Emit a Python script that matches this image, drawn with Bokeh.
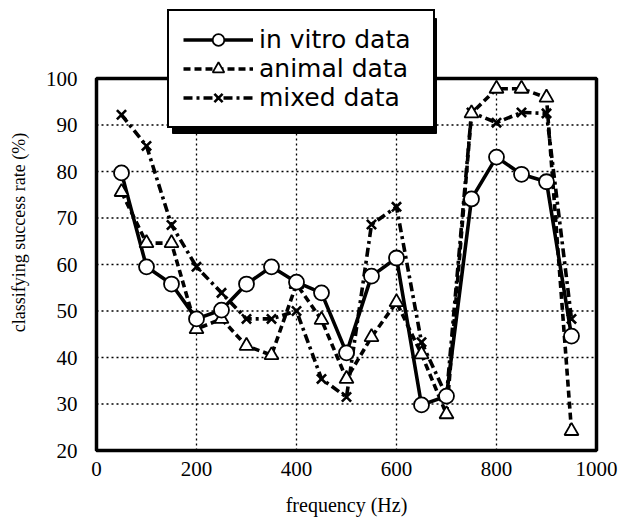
from bokeh.plotting import figure
from bokeh.models import Legend, LegendItem, FixedTicker, BoxAnnotation
from bokeh.embed import file_html
from bokeh.resources import INLINE

# ---- data ----
freq = [50, 100, 150, 200, 250, 300, 350, 400, 450, 500,
        550, 600, 650, 700, 750, 800, 850, 900, 950]
in_vitro = [79.7, 59.5, 55.8, 48.3, 50.2, 55.8, 59.5, 56.2, 53.9, 41.0,
            57.5, 61.4, 29.8, 31.7, 74.1, 83.1, 79.4, 77.8, 44.6]
animal = [75.6, 64.6, 64.6, 46.1, 48.3, 42.5, 40.5, 55.8, 48.1, 35.4,
          44.4, 51.9, 40.7, 27.8, 92.5, 97.8, 97.8, 95.9, 24.2]
mixed = [92.2, 85.5, 68.5, 59.5, 53.9, 48.3, 48.3, 50.0, 35.4, 31.5,
         68.6, 72.4, 43.3, 31.7, 92.7, 90.5, 92.7, 92.5, 48.3]
series_labels = ["in vitro data", "animal data", "mixed data"]
x_ticks = [0, 200, 400, 600, 800, 1000]
y_ticks = [20, 30, 40, 50, 60, 70, 80, 90, 100]
x_lim = (0, 1000)
y_lim = (20, 100)

SERIF = "Liberation Serif"
SANS = "DejaVu Sans"

W, H = 622, 529
BL, BR, BT, BB = 90, 20, 8, 73           # borders around the frame
XR = (-12, 1012)                          # frame a bit larger than the box
YR = (18.71, 100 + 70 / 4.65)             # room above for the legend
FW, FH = W - BL - BR, H - BT - BB


def sx(px):   # canvas px -> data x
    return XR[0] + (px - BL) * (XR[1] - XR[0]) / FW


def sy(py):   # canvas px -> data y
    return YR[0] + (BT + FH - py) * (YR[1] - YR[0]) / FH


p = figure(width=W, height=H, x_range=XR, y_range=YR,
           output_backend="svg", toolbar_location=None,
           min_border_left=BL, min_border_right=BR,
           min_border_top=BT, min_border_bottom=BB)

p.background_fill_color = "white"
p.border_fill_color = "white"
p.outline_line_color = None
p.xgrid.visible = False
p.ygrid.visible = False

for ax in (p.xaxis[0], p.yaxis[0]):
    ax.axis_line_color = None
    ax.major_tick_line_color = None
    ax.minor_tick_line_color = None
    ax.major_tick_out = 0
    ax.major_tick_in = 0
    ax.major_label_text_font = SERIF
    ax.major_label_text_font_size = "21px"
    ax.major_label_text_color = "black"
    ax.axis_label_text_font = SERIF
    ax.axis_label_text_font_style = "normal"
    ax.axis_label_text_color = "black"

p.xaxis.ticker = FixedTicker(ticks=x_ticks)
p.yaxis.ticker = FixedTicker(ticks=y_ticks)
p.xaxis.axis_label = "frequency (Hz)"
p.yaxis.axis_label = "classifying success rate (%)"
p.xaxis.axis_label_text_font_size = "20px"
p.yaxis.axis_label_text_font_size = "18px"
p.xaxis.major_label_standoff = 5
p.yaxis.major_label_standoff = 13
p.xaxis.axis_label_standoff = 15
p.yaxis.axis_label_standoff = 14

# dotted grid limited to the plotted box
inner_x = x_ticks[1:-1]
inner_y = y_ticks[1:-1]
p.segment(x0=inner_x, y0=[y_lim[0]] * len(inner_x), x1=inner_x, y1=[y_lim[1]] * len(inner_x),
          line_color="black", line_width=1.3, line_dash="2 3")
p.segment(x0=[x_lim[0]] * len(inner_y), y0=inner_y, x1=[x_lim[1]] * len(inner_y), y1=inner_y,
          line_color="black", line_width=1.3, line_dash="2 3")

# plot box
p.add_layout(BoxAnnotation(left=x_lim[0], right=x_lim[1], bottom=y_lim[0], top=y_lim[1],
                           fill_alpha=0, line_color="black", line_alpha=1, line_width=3.5))

LW = 3.6
r1l = p.line(freq, in_vitro, line_color="black", line_width=LW)
r2l = p.line(freq, animal, line_color="black", line_width=LW, line_dash="7 4")
r3l = p.line(freq, mixed, line_color="black", line_width=LW, line_dash="9 4 3 4")

r3m = p.scatter(freq, mixed, marker="x", size=13, line_color="black", line_width=2.6)
r2m = p.scatter(freq, animal, marker="triangle", size=14, fill_color="white",
                line_color="black", line_width=1.8)
r1m = p.scatter(freq, in_vitro, marker="circle", size=15, fill_color="white",
                line_color="black", line_width=1.8)

# legend geometry (canvas px)
PAD, ROW, GW, STAND, LBW = 14, 29, 70, 6, 160
LEG_L, LEG_T = 167, 13
LEG_W = 2 * PAD + GW + STAND + LBW
LEG_H = 2 * PAD + 3 * ROW
SH = 5
# drop shadow of the legend box
p.add_layout(BoxAnnotation(left=sx(LEG_L + SH), right=sx(LEG_L + LEG_W + SH),
                           top=sy(LEG_T + SH), bottom=sy(LEG_T + LEG_H + SH),
                           fill_color="black", fill_alpha=1,
                           line_color="black", line_alpha=1, line_width=1))

legend = Legend(items=[
    LegendItem(label=series_labels[0], renderers=[r1l, r1m]),
    LegendItem(label=series_labels[1], renderers=[r2l, r2m]),
    LegendItem(label=series_labels[2], renderers=[r3l, r3m]),
], location=(LEG_L - BL, BT + FH - (LEG_T + LEG_H)),
   background_fill_color="white", background_fill_alpha=1,
   border_line_color="black", border_line_alpha=1, border_line_width=2.5,
   label_text_font=SANS, label_text_font_size="25px", label_text_color="black",
   glyph_width=GW, glyph_height=ROW, label_height=ROW, label_width=LBW,
   label_standoff=STAND, padding=PAD, spacing=0, margin=0)
p.add_layout(legend, "center")

open("out.html", "w").write(file_html(p, INLINE))
